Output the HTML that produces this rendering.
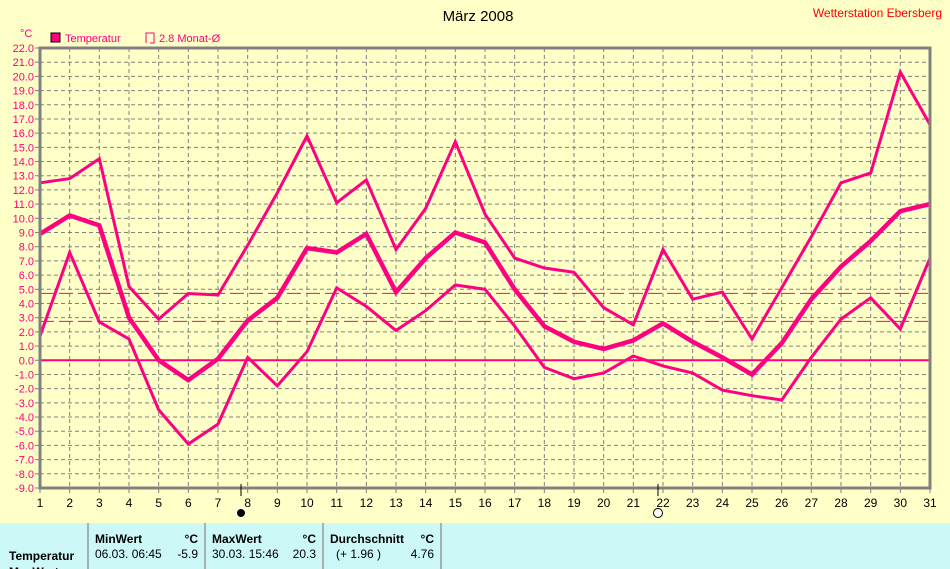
<!DOCTYPE html>
<html><head><meta charset="utf-8"><style>
html,body{margin:0;padding:0;background:#ffffc8;}
svg{display:block;font-family:"Liberation Sans",sans-serif;}
</style></head><body>
<svg id="s" width="950" height="569" xmlns="http://www.w3.org/2000/svg">
<rect width="950" height="569" fill="#ffffc8"/>
<text x="478" y="21" font-size="15" text-anchor="middle" fill="#000">März 2008</text>
<text x="942" y="17" font-size="12" text-anchor="end" fill="#ff0000">Wetterstation Ebersberg</text>
<text x="20" y="37" font-size="11" fill="#ff0080">°C</text>
<rect x="51" y="33" width="9" height="9" fill="#ff0080" stroke="#000" stroke-width="1"/>
<text x="65" y="42" font-size="11" fill="#ff0080">Temperatur</text>
<path d="M146 43 V33 H154 V43 H150" fill="none" stroke="#ff0080" stroke-width="1"/>
<text x="159" y="42" font-size="11" fill="#ff0080">2.8 Monat-Ø</text>
<g id="g"></g>
<rect x="0" y="523" width="950" height="46" fill="#ccf8f8"/>
<g stroke="#999" stroke-width="1.5"><line x1="88" y1="523" x2="88" y2="569"/><line x1="205" y1="523" x2="205" y2="569"/><line x1="323" y1="523" x2="323" y2="569"/><line x1="441" y1="523" x2="441" y2="569"/></g>
<g font-size="12" fill="#000">
<text x="9" y="560" font-weight="bold">Temperatur</text>
<text x="9" y="576" font-weight="bold">MaxWert</text>
<text x="95" y="543" font-weight="bold">MinWert</text><text x="198" y="543" text-anchor="end" font-weight="bold">°C</text>
<text x="95" y="558">06.03.  06:45</text><text x="198" y="558" text-anchor="end">-5.9</text>
<text x="212" y="543" font-weight="bold">MaxWert</text><text x="316" y="543" text-anchor="end" font-weight="bold">°C</text>
<text x="212" y="558">30.03.  15:46</text><text x="316" y="558" text-anchor="end">20.3</text>
<text x="330" y="543" font-weight="bold">Durchschnitt</text><text x="434" y="543" text-anchor="end" font-weight="bold">°C</text>
<text x="336" y="558">(+ 1.96 )</text><text x="434" y="558" text-anchor="end">4.76</text>
</g>
</svg>
<script>
const NS="http://www.w3.org/2000/svg",g=document.getElementById('g');
const X=d=>40+(d-1)*(890/30),Y=v=>48+(22-v)*(440/31);
let h='';
for(let v=-9;v<=22;v++){const y=Y(v);
 if(v>-9&&v<22)h+=`<line x1="40" y1="${y}" x2="930" y2="${y}" stroke="#808080" stroke-dasharray="4,3"/>`;
 h+=`<line x1="35" y1="${y}" x2="40" y2="${y}" stroke="#808080"/>`;
 h+=`<text x="34" y="${y+4}" font-size="11" text-anchor="end" fill="#ff0080">${v.toFixed(1)}</text>`;}
for(let d=1;d<=31;d++){const x=X(d);
 if(d>1&&d<31)h+=`<line x1="${x}" y1="48" x2="${x}" y2="488" stroke="#808080" stroke-dasharray="4,3"/>`;
 h+=`<line x1="${x}" y1="488" x2="${x}" y2="493" stroke="#808080"/>`;
 h+=`<text x="${x}" y="507" font-size="12" text-anchor="middle" fill="#000">${d}</text>`;}
h+=`<line x1="40" y1="${Y(4.71)}" x2="930" y2="${Y(4.71)}" stroke="#ff0080" stroke-dasharray="14,5"/>`;
h+=`<line x1="40" y1="${Y(2.74)}" x2="930" y2="${Y(2.74)}" stroke="#ff0080" stroke-dasharray="14,5"/>`;
h+=`<line x1="40" y1="${Y(0)}" x2="930" y2="${Y(0)}" stroke="#ff0080" stroke-width="2"/>`;
const mx=[12.5,12.8,14.2,5.2,2.9,4.7,4.6,8.1,11.8,15.8,11.1,12.7,7.8,10.7,15.4,10.3,7.2,6.5,6.2,3.7,2.5,7.8,4.3,4.8,1.5,5.1,8.7,12.5,13.2,20.3,16.6];
const me=[8.9,10.2,9.5,3.0,0.0,-1.4,0.1,2.8,4.4,7.9,7.6,8.9,4.8,7.2,9.0,8.3,5.0,2.4,1.3,0.8,1.4,2.6,1.3,0.2,-1.0,1.2,4.3,6.6,8.4,10.5,11.0];
const mn=[1.7,7.6,2.7,1.5,-3.5,-5.9,-4.5,0.2,-1.8,0.6,5.1,3.8,2.1,3.5,5.3,5.0,2.4,-0.5,-1.3,-0.9,0.3,-0.4,-0.9,-2.1,-2.5,-2.8,0.2,2.9,4.4,2.2,7.2];
const pl=(a,w)=>`<polyline fill="none" stroke="#ff0080" stroke-width="${w}" stroke-linejoin="miter" points="${a.map((v,i)=>X(i+1).toFixed(1)+','+Y(v).toFixed(1)).join(' ')}"/>`;
h+=pl(mx,3)+pl(mn,3)+pl(me,4.5);
h+=`<path d="M40 48 H930 V488 H40 Z" fill="none" stroke="#808080" stroke-width="3"/>`;
h+=`<line x1="241" y1="484" x2="241" y2="496" stroke="#000"/><circle cx="241" cy="513" r="4.5" fill="#000" stroke="#fff"/>`;
h+=`<line x1="658" y1="484" x2="658" y2="496" stroke="#000"/><circle cx="658" cy="513" r="4.5" fill="#fff" stroke="#000"/>`;
g.innerHTML=h;
</script>
</body></html>
